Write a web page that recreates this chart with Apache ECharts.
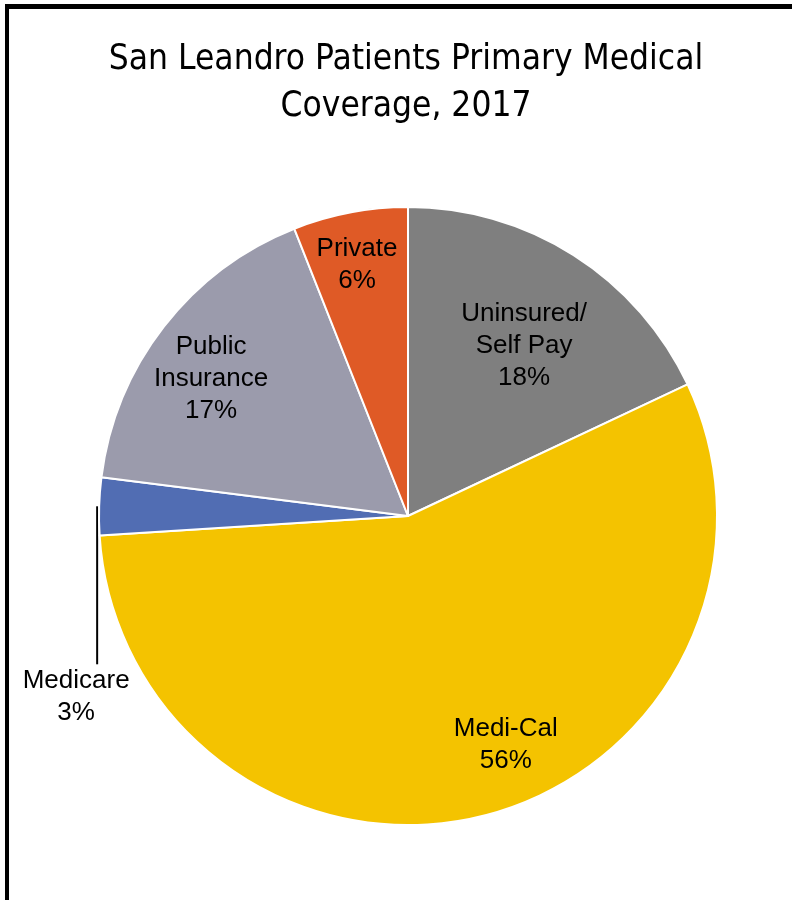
<!DOCTYPE html>
<html><head><meta charset="utf-8">
<script src="https://cdn.jsdelivr.net/npm/echarts@6/dist/echarts.min.js"></script>
<style>
html,body{margin:0;padding:0;background:#fff;}
#frame{position:absolute;left:5px;top:4px;width:800px;height:900px;border-left:4px solid #000;border-top:5px solid #000;}
#c{position:absolute;left:0;top:0;width:792px;height:900px;}
</style></head>
<body>
<div id="frame"></div>
<div id="c"></div>
<script>
const titleText = 'San Leandro Patients Primary Medical\nCoverage, 2017';
const categories = ['Uninsured/\nSelf Pay', 'Medi-Cal', 'Medicare', 'Public\nInsurance', 'Private'];
const values = [18, 56, 3, 17, 6];
const colors = ['#7f7f7f', '#f4c300', '#516db3', '#9b9bac', '#df5a26'];
// label placement style: [radius fraction, angle shift in degrees from slice middle]
const labelPlace = [[0.672, 1.6], [0.80, -8.9], null, [0.78, -2.6], [0.835, -0.6]];

const CX = 408, CY = 516, R = 309;
const total = values.reduce((a, b) => a + b, 0);
const cum = [];
values.reduce((acc, v, i) => { cum[i] = acc; return acc + v; }, 0);

const chart = echarts.init(document.getElementById('c'));
chart.setOption({
  animation: false,
  backgroundColor: 'transparent',
  title: {
    text: titleText,
    left: 401,
    top: 31,
    textAlign: 'center',
    textStyle: {
      fontFamily: '"Noto Sans Condensed", "DejaVu Sans Condensed", "Liberation Sans", sans-serif',
      fontWeight: 'normal',
      fontSize: 35,
      lineHeight: 47,
      color: '#000'
    }
  },
  series: [{
    type: 'pie',
    center: [CX, CY],
    radius: [0, R],
    startAngle: 90,
    clockwise: true,
    itemStyle: { borderColor: '#fff', borderWidth: 2 },
    label: {
      show: true,
      position: 'inside',
      fontFamily: '"Liberation Sans", Arial, sans-serif',
      fontSize: 26,
      lineHeight: 32,
      color: '#000',
      align: 'center',
      overflow: 'none',
      formatter: p => p.name + '\n' + p.value + '%'
    },
    labelLine: { show: false },
    labelLayout: function (p) {
      const i = p.dataIndex;
      const mid = (cum[i] + values[i] / 2) / total * 2 * Math.PI;
      if (labelPlace[i]) {
        const a = mid + labelPlace[i][1] * Math.PI / 180;
        const r = R * labelPlace[i][0];
        return { x: CX + r * Math.sin(a), y: CY - r * Math.cos(a) + 2, align: 'center', verticalAlign: 'middle' };
      }
      const x0 = CX + R * Math.sin(mid) - 2, y0 = CY - R * Math.cos(mid);
      const y1 = y0 + 158;
      return {
        x: x0 - 21, y: y1 + 33, align: 'center', verticalAlign: 'middle',
        labelLinePoints: [[x0, y0], [x0, y0 + 79], [x0, y1]]
      };
    },
    data: categories.map((c, i) => ({
      name: c,
      value: values[i],
      itemStyle: { color: colors[i] },
      label: labelPlace[i] ? {} : { position: 'outside', overflow: 'none', edgeDistance: 0, alignTo: 'none', width: 200 },
      labelLine: labelPlace[i] ? { show: false } : { show: true, length: 20, length2: 20, lineStyle: { color: '#000', width: 2 } }
    }))
  }]
});
</script>
</body></html>
